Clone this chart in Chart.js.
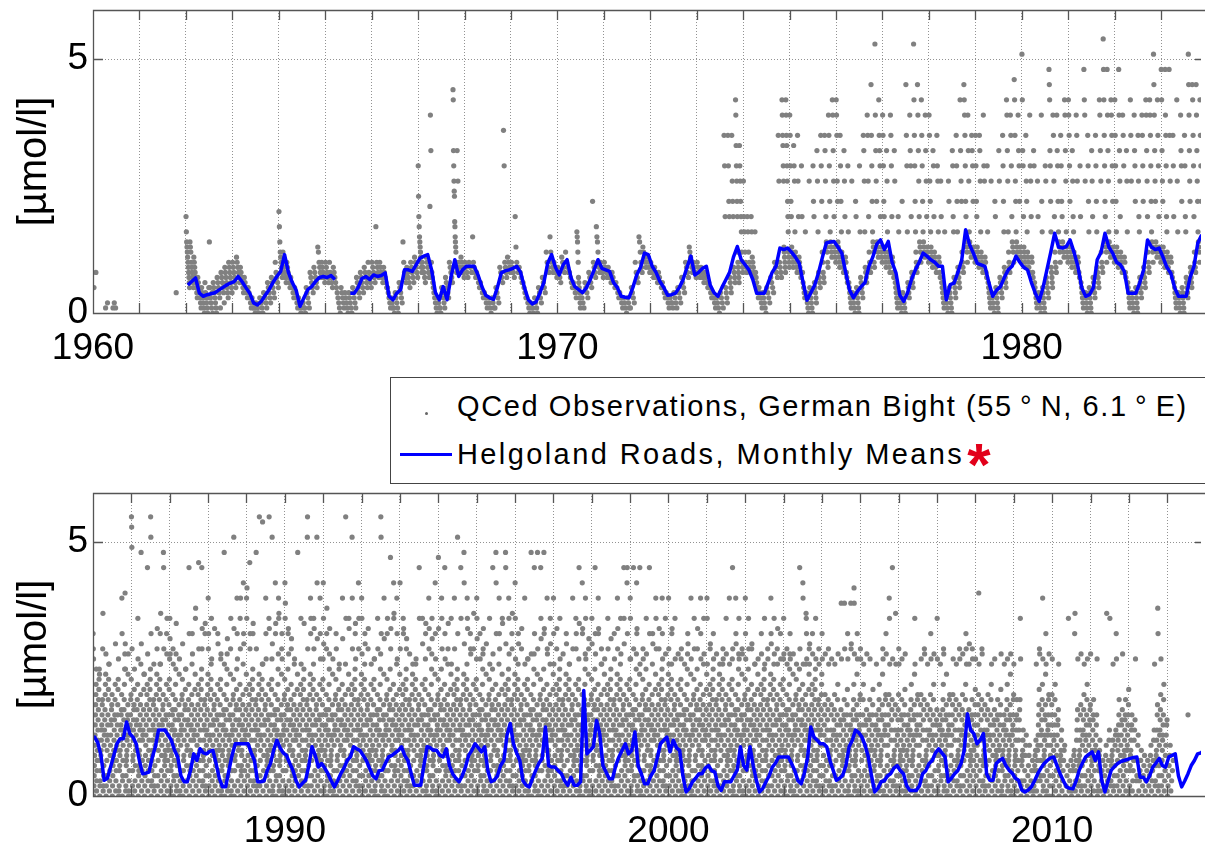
<!DOCTYPE html>
<html>
<head>
<meta charset="utf-8">
<script src="https://cdn.jsdelivr.net/npm/chart.js@4.4.1/dist/chart.umd.min.js"></script>
<style>
  html, body { margin: 0; padding: 0; background: #fff; overflow: hidden; }
  body { width: 1205px; height: 849px; position: relative; font-family: "Liberation Sans", Arial, sans-serif; }
  .panel { position: absolute; left: 0; }
  #legend { position: absolute; left: 390px; top: 377px; width: 840px; height: 105px; border: 1px solid #444; background: #fff; z-index: 2; }
  #legend .txt { position: absolute; left: 66px; font-size: 29px; line-height: 29px; letter-spacing: 1.6px; white-space: nowrap; color: #000; }
  #legend .dot { position: absolute; left: 34px; top: 34px; width: 3px; height: 3px; border-radius: 50%; background: #666; }
  #legend .swatch { position: absolute; left: 9px; top: 75px; width: 52px; height: 3px; background: #0000ff; }
  #legend .star { color: #e2001a; font-weight: bold; font-size: 60px; line-height: 0; position: relative; top: 21px; margin-left: 3px; letter-spacing: 0; }
</style>
</head>
<body>
<div class="panel" style="top:0px"><canvas id="topChart" width="1205" height="372"></canvas></div>
<div class="panel" style="top:483px"><canvas id="bottomChart" width="1205" height="366"></canvas></div>
<div id="legend">
  <div class="dot"></div>
  <div class="txt" style="top:14px">QCed Observations, German Bight (55&#8201;°&#8201;N, 6.1&#8201;°&#8201;E)</div>
  <div class="swatch"></div>
  <div class="txt" style="top:62px; letter-spacing:2.4px">Helgoland Roads, Monthly Means<span class="star">*</span></div>
</div>
<script>
var firstYear = 1960;

// one char per observation: index in LEVELS / 10 = value in umol/l
var LEVELS = '0123456789abcdefghijklmnopqrstuvwxyzABCDEFGHIJKLMNOPQRSTUVWXYZ';

// observations per year (1960...), 12 month groups separated by spaces, '-' = no data
var observations = [
  "58 - - 12 - 121 - - - - - -",
  "- - - - - - - - - 4 - -",
  "jgedcba98765 edca98765 ba9876543 7654321 5432106 4321035 e532140 6543210 765431 876542 9876543 a987654",
  "a98765 ba9876 987654 76543 54321 32110 21100 32210 43321 65432 76543 a8765",
  "khecba987 ca9876 a98765 76543 54321 32100 22110 54321 87654 98765 dca987 a9876",
  "a9876 a8765 98765 43210 54321 43210 43210 54321 76543 87654 98765 a8765",
  "a9876 ha987 a9876 98765 54321 32110 43210 65432 ea876 98765 a9876 ba987",
  "tnjhfedcba98 a9876 ba987 lDwa8765 43210 32110 54321 76543 a9876 IGwtqonihfedca98 wqa98 ba987",
  "a987 a98 fa987 8765 6543 4321 3210 3211 5432 9876 Ata987 ba98",
  "a987 jda98 9876 6543 3210 2110 3210 5432 7654 ca98 fca98 a987",
  "9876 ba98 ca98 8765 6543 gfeca7654321 4321 6543 8765 ma987 hfeca98 a987",
  "a987 9876 8765 6543 4321 3210 3211 5432 a876 feca98 dcba9 ba98",
  "a987 9876 8765 6543 4321 3221 4321 5432 7654 a987 dcba98 a987",
  "a987 9876 8765 6543 4321 3210 4321 ztj5432 ztmj7654 zqmj9876 GDxtqmjca9876 xtqmjgca98",
  "qjgca98 jgca98 jgba987 g876543 54321 43210 5432 7654 a987 zqa987 GDzxtqdcba98 GDzxtqmjgcba9",
  "Dztmjdcba9 xtqgcba98 zqjba987 tj86543 g43210 q543210 tmj65432 wqg8765 ztmca876 zwqjedca9 Dztmgedcb GDwqjdcba",
  "GDzqmedcba9 ztmgcba98 wqjba876 tg654321 q43210 mj543210 tg76543 zwqg9876 Dzqjca98 Jztmgedca9 RDwqmedcb Gzwtjdcba",
  "Dztmjdcba9 wqgcba98 Dztjba87 wq654321 jg43210 m43210 Jztg6543 Dwtj8765 RGztmgca98 JDwqjedca Gztmgedcb Dwqjdcba",
  "Dzqmgdcba9 wtjcba98 ztqgba87 qj654321 g43210 qm543210 wtjg76543 ztmg98765 Gwqmca98 JGDztmjedca Dwqgedcb zwtmdcba",
  "ztmjdcba9 zwqgcba98 Dtqba87 tg654321 q43210 mj543210 wq76543 ztmg98765 GDwqgca98 Dztjedca KGzqmgedcb Dwtmdcba",
  "PGwtjdcba9 zqmgcba98 Dtqjba87 wt654321 qj43210 Dmg543210 tq76543 MJGwtmg98765 Dzqjca98 Dwtmgedca ztmjedcb GDwqgdcba",
  "GDztmdcba9 wqjgcba98 Dzqba87 tj654321 MGDq43210 ztmg543210 wqj76543 ztmg98765 GDwqca98 SMGztmjedca MDwqgedcb GDztmdcba",
  "Gztmgdcba9 MDwqjcba98 Dztba87 wqg654321 Gzq43210 Dwtm543210 zqjg76543 Dztm98765 GDwqjca98 GDztmgedca PJDwqmedcb Gztjdcba",
  "MGwqmdcba9 MDztjgcba98 Mzqba87 ztj654321 Gqg43210 Dwtm543210 ztjg76543 PJDwqm98765 JGztjca98 JDwqmgedca Gztmjedcb GDwqmdcba",
  "GDztmgdcba9 Dwqjgcba98 ztgba87 wqg654321 qj43210 mg543210 tqj76543 zwmjg98765 Dtqgca98 Dzmjgedca Dwtmgedcb GDwqjgdcba",
  "wtr02468acegikm p13579bdfhjlnp o0235789bdegij tA1246acdfhkmo s02479bcegjlnq q1358acefhik 0246789bdfgjm u13579acegilnr 0125689bdeghk Dw0347acdfhjmps Eup1246789bcfgio s0135acdegjkn",
  "TRNt02578bdfhilp 1369acefhjm zr0245689bdegikq Mu1357bcdfhlo o02468acegikm Js13579bdfhjlnp TPw0235789bdegij q1246acdfhkmo tx02479bcegjlnq wqA1358acefhik MJt0246789bdfgjm wsz13579acegilnr",
  "zvs0125689bdeghk tq0347acdfhjmps y1246789bcfgio r0135acdegjkn u02578bdfhilp p1369acefhjm Jw0245689bdegikq ws1357bcdfhlo zB02468acegikm Kt13579bdfhjlnp Jtx0235789bdegij wy1246acdfhkmo",
  "Dtw02479bcegjlnq zr1358acefhik x0246789bdfgjm wu13579acegilnr s0125689bdeghk Mq0347acdfhjmps v1246789bcfgio tz0135acdegjkn Px02578bdfhilp Dwr1369acefhjm ztD0245689bdegikq Gwu1357bcdfhlo",
  "DzF02468acegikm Ktw13579bdfhjlnp wy0235789bdegij Mt1246acdfhkmo T02479bcegjlnq Sq1358acefhik Dwr0246789bdfgjm zTx13579acegilnr Pu0125689bdeghk Gwy0347acdfhjmps DzA1246789bcfgio twr0135acdegjkn",
  "GzC02578bdfhilp wxs1369acefhjm tv0245689bdegikq r1357bcdfhlo M02468acegikm zq13579bdfhjlnp y0235789bdegij PTt1246acdfhkmo Dwz02479bcegjlnq ztx1358acefhik PGv0246789bdfgjm Dwr13579acegilnr",
  "Gzu0125689bdeghk twB0347acdfhjmps x1246789bcfgio r0135acdegjkn wt02578bdfhilp q1369acefhjm Dv0245689bdegikq Tz1357bcdfhlo zx02468acegikm PDt13579bdfhjlnp wyr0235789bdegij Gtz1246acdfhkmo",
  "Dzs02479bcegjlnq wu1358acefhik tx0246789bdfgjm q13579acegilnr r0125689bdeghk zt0347acdfhjmps TPw1246789bcfgio Dv0135acdegjkn wz02578bdfhilp Ltx1369acefhjm GzA0245689bdegikq Dwr1357bcdfhlo",
  "Gt02468acegikm zwx13579bdfhjlnp tv0235789bdegij s1246acdfhkmo q02479bcegjlnq r1358acefhik Jz0246789bdfgjm zu13579acegilnr wy0125689bdeghk Dtx0347acdfhjmps zv1246789bcfgio Gwr0135acdegjkn",
  "Lx02578bdfhilp Dzt1369acefhjm Jwr0245689bdegikq ty1357bcdfhlo zq02468acegikm Dt13579bdfhjlnp Pw0235789bdegij Jz1246acdfhkmo MGu02479bcegjlnq Dzx1358acefhik wts0246789bdfgjm tA13579acegilnr",
  "Dzv0125689bdeghk wr0347acdfhjmps tx1246789bcfgio u0135acdegjkn zq02578bdfhilp Js1369acefhjm MGw0245689bdegikq Dwt1357bcdfhlo zy02468acegikm MJu13579bdfhjlnp Dzs0235789bdegij wtA1246acdfhkmo",
  "Gzr02479bcegjlnq wu1358acefhik tx0246789bdfgjm Dq13579acegilnr r0125689bdeghk Ms0347acdfhjmps Jw1246789bcfgio Mt0135acdegjkn Jzv02578bdfhilp Mwx1369acefhjm Dts0245689bdegikq zu1357bcdfhlo",
  "Dwq02468acegikm tx13579bdfhjlnp zr0235789bdegij s1246acdfhkmo wu02479bcegjlnq q1358acefhik Dt0246789bdfgjm ztw13579acegilnr Jy0125689bdeghk Gwx0347acdfhjmps Dzr1246789bcfgio tv0135acdegjkn",
  "zu02578bdfhilp Jws1369acefhjm Dwx0245689bdegikq tq1357bcdfhlo r02468acegikm zt13579bdfhjlnp v0235789bdegij wr1246acdfhkmo Dtx02479bcegjlnq zs1358acefhik Jzu0246789bdfgjm GJw13579acegilnr",
  "Dzr0125689bdeghk Jt0347acdfhjmps Gwx1246789bcfgio Jq0135acdegjkn tr02578bdfhilp zs1369acefhjm Jw0245689bdegikq wu1357bcdfhlo Dzt02468acegikm tx13579bdfhjlnp Dwr0235789bdegij zs1246acdfhkmo",
  "Dtq02479bcegjlnq wx1358acefhik zr0246789bdfgjm s13579acegilnr t0125689bdeghk q0347acdfhjmps wu1246789bcfgio Dr0135acdegjkn zt02578bdfhilp tx1369acefhjm Dwr0245689bdegikq zs1357bcdfhlo",
  "Dzq02468acegikm tu13579bdfhjlnp wr0235789bdegij s1246acdfhkmo q02479bcegjlnq tr1358acefhik zs0246789bdfgjm Dq13579acegilnr Jt0125689bdeghk Dwu0347acdfhjmps zr1246789bcfgio ts0135acdegjkn",
  "Dwr02578bdfhilp zt1369acefhjm tu0245689bdegikq q1357bcdfhlo r02468acegikm ws13579bdfhjlnp zq0235789bdegij tr1246acdfhkmo Dwu02479bcegjlnq zs1358acefhik tqx0246789bdfgjm wr13579acegilnr",
  "zs0125689bdeghk tq0347acdfhjmps wr1246789bcfgio s0135acdegjkn q02578bdfhilp Jt1369acefhjm GDq0245689bdegikq Azwr1357bcdfhlo tqu02468acegikm ws13579bdfhjlnp zr0235789bdegij tq1246acdfhkmo",
  "wr02468acegik s1357bdfhj tq0236789bdgi r1246acdfhk q02479bcegjm s1358acefh Cr0246789bdfgj Ct13579acegil wr0125689bdeg Ctu0347acdfhjm FCs1246789bcfgio wr0135acdegjk",
  "tr02479bcegjm q1358acefh s0246789bdfgj r13579acegil 0125689bdeg q0347acdfhjm 1246789bcfgio tr0135acdegjk ws02468acegik Dzq1357bdfhj Jr0236789bdgi Aq1246acdfhk",
  "tq0246789bdfgj r13579acegil s0125689bdeg 0347acdfhjm 1246789bcfgio zq0135acdegjk 02468acegik r1357bdfhj ts0236789bdgi q1246acdfhk wr02479bcegjm s1358acefh",
  "zr0125689bdeg q0347acdfhjm ts1246789bcfgio 0135acdegjk 02468acegik r1357bdfhj q0236789bdgi tr1246acdfhk s02479bcegjm wtq1358acefh qu0246789bdfgj tr13579acegil",
  "r02468acegik Eq1357bdfhj ts0236789bdgi 1246acdfhk 02479bcegjm q1358acefh r0246789bdfgj 13579acegil s0125689bdeg q0347acdfhjm r1246789bcfgio s0135acdegjk",
  "q0246789bdfgj 1357bdfhj zr0236789bd 1358ac 02468a 1357 0125689b q13579acegil ts0347acdfhjm Dr1246789bcfgio wq0135acdegjk s02468acegik",
  "r02479bcegjm 1358acefh q0246789bd 13579a 0246 z1357 0125689 wA1357bdfh r0236789bdgi s1246acdfhk q02479bcegjm r1358acefhi",
  "s0246789bdfgj 13579aceg r0125689b 1357 02468a A1357bd z0236789b q1246acd wr02479bcegj 1358acefh s0246789bdfgj 13579acegil",
  "0125689bdeg 1357bdf r0347ac 13579 02468 1357 02468a 1357bd q0236789bdgi Bw1246acdfhk r02479bcegjm 1358acef",
  "02468a 1357 - - - - g - - - - -"
];

// Helgoland Roads monthly means, one row of 12 per year from 1960
var monthlyMeans = [
  [null, null, null, null, null, null, null, null, null, null, null, null],
  [null, null, null, null, null, null, null, null, null, null, null, null],
  [0.55, 0.62, 0.69, 0.39, 0.33, 0.36, 0.38, 0.4, 0.45, 0.5, 0.55, 0.59],
  [0.62, 0.72, 0.62, 0.5, 0.39, 0.2, 0.16, 0.23, 0.35, 0.46, 0.6, 0.72],
  [0.82, 1.15, 0.8, 0.6, 0.45, 0.13, 0.3, 0.46, 0.52, 0.62, 0.7, 0.72],
  [0.7, 0.74, 0.66, null, null, null, 0.39, 0.39, 0.5, 0.68, 0.72, 0.66],
  [0.75, 0.72, 0.74, 0.79, 0.33, 0.26, 0.39, 0.46, 0.85, 0.85, 0.82, 0.95],
  [1.08, 1.12, 1.15, 0.85, 0.4, 0.26, 0.52, 0.26, 0.7, 1.05, 0.72, 0.85],
  [0.92, 0.92, 0.92, 0.75, 0.52, 0.35, 0.3, 0.27, 0.5, 0.79, 0.83, 0.85],
  [0.88, 0.92, 0.8, 0.5, 0.26, 0.18, 0.22, 0.4, 0.6, 0.98, 1.15, 0.9],
  [0.75, 0.95, 1.05, 0.7, 0.52, 0.46, 0.4, 0.5, 0.66, 0.85, 1.05, 0.88],
  [0.85, 0.82, 0.6, 0.5, 0.33, 0.31, 0.3, 0.5, 0.75, 0.9, 1.18, 1.15],
  [0.92, 0.8, 0.62, 0.5, 0.35, 0.36, 0.39, 0.5, 0.66, 0.9, 1.12, 0.75],
  [0.8, 0.88, 0.92, 0.55, 0.4, 0.33, 0.5, 0.65, 0.8, 1.1, 1.31, 1.05],
  [0.95, 0.85, 0.66, 0.39, 0.39, 0.39, 0.6, 0.8, 0.92, 1.28, 1.25, 1.28],
  [1.2, 1.1, 0.98, 0.6, 0.25, 0.4, 0.55, 0.8, 1.1, 1.38, 1.4, 1.41],
  [1.3, 1.18, 0.8, 0.45, 0.3, 0.42, 0.52, 0.6, 0.92, 1.1, 1.35, 1.44],
  [1.25, 1.41, 1.0, 0.79, 0.35, 0.23, 0.4, 0.66, 0.85, 1.0, 1.18, 1.12],
  [1.05, 1.0, 0.92, 0.92, 0.26, 0.56, 0.59, 0.8, 1.05, 1.64, 1.35, 1.18],
  [0.98, 0.95, 0.92, 0.6, 0.33, 0.45, 0.52, 0.7, 0.85, 0.92, 1.12, 1.0],
  [0.9, 0.85, 0.6, 0.39, 0.23, 0.5, 0.85, 1.2, 1.57, 1.3, 1.28, 1.31],
  [1.44, 1.2, 0.92, 0.5, 0.33, 0.36, 0.5, 1.05, 1.2, 1.57, 1.3, 1.18],
  [1.0, 0.95, 0.82, 0.39, 0.39, 0.39, 0.6, 0.85, 1.44, 1.3, 1.25, 1.28],
  [1.1, 0.9, 0.79, 0.5, 0.33, 0.33, 0.33, 0.7, 0.92, 1.38, 1.54, 1.4],
  [1.3, 1.2, 1.0, 0.6, 0.3, 0.3, 0.5, 0.7, 0.9, 1.1, 1.2, 1.15],
  [1.16, 1.05, 0.8, 0.31, 0.35, 0.57, 0.8, 1.03, 1.13, 1.13, 1.46, 1.23],
  [1.16, 1.03, 0.7, 0.44, 0.45, 0.47, 0.75, 0.97, 1.3, 1.3, 1.3, 1.2],
  [1.1, 0.9, 0.77, 0.4, 0.28, 0.28, 0.5, 0.83, 0.7, 0.93, 0.85, 0.83],
  [0.88, 0.9, 0.64, 0.35, 0.18, 0.18, 0.5, 0.8, 1.03, 1.03, 1.03, 1.03],
  [1.03, 0.85, 0.7, 0.28, 0.28, 0.3, 0.5, 0.64, 0.9, 1.1, 0.95, 0.85],
  [0.8, 0.65, 0.51, 0.3, 0.18, 0.25, 0.31, 0.6, 0.97, 0.8, 0.57, 0.64],
  [0.55, 0.44, 0.3, 0.18, 0.3, 0.44, 0.55, 0.7, 0.77, 0.97, 0.93, 0.9],
  [0.8, 0.7, 0.55, 0.4, 0.34, 0.5, 0.51, 0.65, 0.77, 0.8, 0.85, 0.9],
  [0.97, 0.8, 0.7, 0.45, 0.21, 0.21, 0.21, 0.6, 0.97, 0.95, 0.9, 0.9],
  [0.8, 0.77, 0.93, 0.6, 0.44, 0.35, 0.28, 0.4, 0.57, 0.8, 0.9, 1.03],
  [0.95, 0.87, 0.97, 0.5, 0.28, 0.31, 0.4, 0.6, 0.7, 1.2, 1.43, 1.03],
  [0.85, 0.7, 0.3, 0.21, 0.18, 0.35, 0.51, 0.65, 0.74, 1.36, 0.6, 0.57],
  [0.57, 0.5, 0.44, 0.3, 0.21, 0.37, 0.21, 0.21, 0.28, 2.08, 0.83, 0.9],
  [0.97, 1.49, 1.23, 0.6, 0.47, 0.34, 0.34, 0.6, 0.77, 0.9, 1.03, 0.83],
  [0.9, 1.26, 0.6, 0.44, 0.24, 0.24, 0.4, 0.5, 0.75, 1.03, 1.1, 1.16],
  [0.87, 1.1, 0.95, 0.9, 0.4, 0.08, 0.15, 0.28, 0.35, 0.44, 0.44, 0.55],
  [0.6, 0.5, 0.47, 0.2, 0.11, 0.28, 0.28, 0.28, 0.4, 0.51, 0.97, 0.6],
  [0.51, 0.97, 0.6, 0.31, 0.08, 0.15, 0.28, 0.4, 0.57, 0.65, 0.77, 0.77],
  [0.77, 0.77, 0.64, 0.5, 0.3, 0.24, 0.45, 0.75, 1.36, 1.16, 1.1, 1.03],
  [1.03, 0.97, 0.7, 0.51, 0.31, 0.35, 0.41, 0.6, 0.97, 1.1, 1.3, 1.25],
  [1.16, 1.0, 0.77, 0.4, 0.08, 0.15, 0.28, 0.3, 0.4, 0.44, 0.55, 0.6],
  [0.5, 0.44, 0.2, 0.11, 0.11, 0.11, 0.2, 0.44, 0.5, 0.64, 0.7, 0.85],
  [0.93, 0.85, 0.77, 0.28, 0.35, 0.44, 0.5, 0.64, 0.9, 1.62, 1.3, 1.23],
  [1.03, 1.1, 1.23, 0.44, 0.31, 0.31, 0.64, 0.7, 0.74, 0.6, 0.51, 0.45],
  [0.35, 0.31, 0.12, 0.08, 0.12, 0.18, 0.3, 0.44, 0.55, 0.64, 0.7, 0.75],
  [0.77, 0.6, 0.44, 0.3, 0.18, 0.15, 0.14, 0.3, 0.51, 0.65, 0.77, 0.82],
  [0.87, 0.7, 0.87, 0.31, 0.08, 0.3, 0.51, 0.58, 0.64, 0.68, 0.7, 0.72],
  [0.74, 0.76, 0.77, 0.37, 0.37, 0.28, 0.4, 0.57, 0.65, 0.74, 0.6, 0.57],
  [0.77, 0.8, 0.83, 0.4, 0.18, 0.3, 0.44, 0.6, 0.7, 0.83, 0.85, 0.9]
];

var yMax = 5.97;

// observations spread evenly inside their month
var obsPoints = [];
observations.forEach(function (row, i) {
    row.split(' ').forEach(function (group, m) {
        if (group === '-') return;
        for (var j = 0; j < group.length; j++) {
            obsPoints.push({
                x: firstYear + i + (m + (j + 0.5) / group.length) / 12,
                y: LEVELS.indexOf(group[j]) / 10
            });
        }
    });
});

var meanPoints = [];
monthlyMeans.forEach(function (row, i) {
    row.forEach(function (v, m) {
        meanPoints.push({ x: firstYear + i + (m + 0.5) / 12, y: v });
    });
});

// matlab style box with inward ticks
var frame = {
    id: 'frame',
    afterDatasetsDraw: function (chart) {
        var ctx = chart.ctx, a = chart.chartArea;
        var xs = chart.scales.x, ys = chart.scales.y;
        ctx.save();
        ctx.strokeStyle = '#555';
        ctx.lineWidth = 1.3;
        ctx.beginPath();
        ctx.moveTo(a.right + 5, a.top + 0.5);
        ctx.lineTo(a.left + 0.5, a.top + 0.5);
        ctx.lineTo(a.left + 0.5, a.bottom + 0.5);
        ctx.lineTo(a.right + 5, a.bottom + 0.5);
        xs.ticks.forEach(function (t) {
            var px = Math.round(xs.getPixelForValue(t.value)) + 0.5;
            ctx.moveTo(px, a.top);
            ctx.lineTo(px, a.top + 10);
            ctx.moveTo(px, a.bottom);
            ctx.lineTo(px, a.bottom - 10);
        });
        ys.ticks.forEach(function (t) {
            var py = Math.round(ys.getPixelForValue(t.value)) + 0.5;
            ctx.moveTo(a.left, py);
            ctx.lineTo(a.left + 10, py);
            ctx.moveTo(a.right, py);
            ctx.lineTo(a.right - 6, py);
        });
        ctx.stroke();
        ctx.restore();
    }
};

function makeChart(id, xMin, xMax, axisHeight) {
    var ctx = document.getElementById(id).getContext('2d');
    return new Chart(ctx, {
        type: 'scatter',
        data: {
            datasets: [{
                label: 'Helgoland Roads, Monthly Means',
                data: meanPoints,
                showLine: true,
                borderColor: '#0000ff',
                borderWidth: 3.5,
                pointRadius: 0,
                borderJoinStyle: 'round',
                order: 0
            }, {
                label: 'QCed Observations, German Bight',
                data: obsPoints,
                pointRadius: 2.6,
                pointBackgroundColor: '#808080',
                pointBorderWidth: 0,
                showLine: false,
                order: 1
            }]
        },
        options: {
            responsive: false,
            animation: false,
            events: [],
            layout: { padding: { top: 10, left: 0, right: 0, bottom: 0 } },
            plugins: { legend: { display: false }, tooltip: { enabled: false } },
            scales: {
                x: {
                    type: 'linear',
                    min: xMin,
                    max: xMax,
                    afterBuildTicks: function (scale) {
                        var t = [];
                        for (var v = Math.ceil(xMin); v <= xMax; v++) t.push({ value: v });
                        scale.ticks = t;
                    },
                    ticks: {
                        autoSkip: false,
                        maxRotation: 0,
                        minRotation: 0,
                        padding: 14,
                        color: '#000',
                        font: { size: 37 },
                        callback: function (v) { return v % 10 === 0 ? String(v) : ''; }
                    },
                    grid: { drawTicks: false, color: 'rgba(110,110,110,0.75)', lineWidth: 1 },
                    border: { display: false, dash: [1, 2] },
                    afterFit: function (scale) {
                        scale.height = axisHeight;
                        scale.paddingLeft = 0;
                        scale.paddingRight = 0;
                    }
                },
                y: {
                    min: 0,
                    max: yMax,
                    afterBuildTicks: function (scale) {
                        scale.ticks = [{ value: 0 }, { value: 5 }];
                    },
                    ticks: { padding: 5, color: '#000', font: { size: 37 } },
                    grid: { drawTicks: false, color: 'rgba(110,110,110,0.75)', lineWidth: 1 },
                    border: { display: false, dash: [1, 2] },
                    title: {
                        display: true,
                        text: '[µmol/l]',
                        color: '#000',
                        font: { size: 40 },
                        padding: { top: 11, bottom: 0 }
                    },
                    afterFit: function (scale) {
                        scale.width = 93;
                        scale.paddingTop = 0;
                        scale.paddingBottom = 0;
                    }
                }
            }
        },
        plugins: [frame]
    });
}

Chart.defaults.font.family = '"Liberation Sans", Arial, sans-serif';
makeChart('topChart', 1960, 1983.86, 59);
makeChart('bottomChart', 1985, 2013.88, 53);
</script>
</body>
</html>
